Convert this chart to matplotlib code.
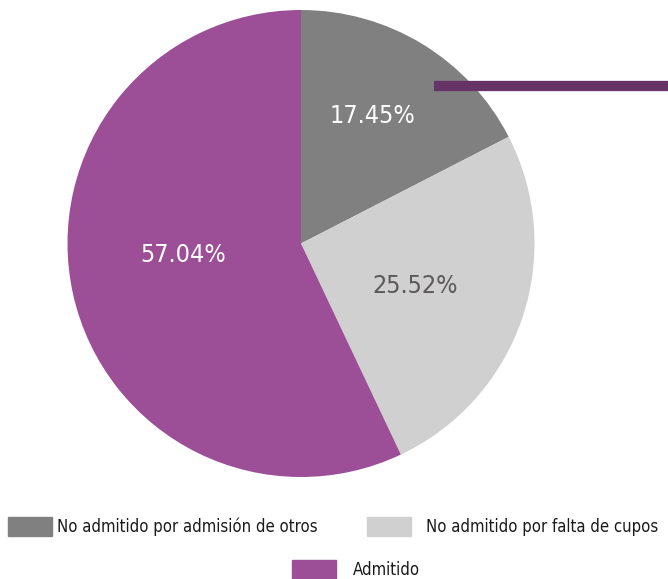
import matplotlib
matplotlib.use("Agg")
import matplotlib.pyplot as plt
from matplotlib.patches import Rectangle
from matplotlib.lines import Line2D
import numpy as np

plt.rcParams['font.family'] = ['DejaVu Sans']
plt.rcParams['font.stretch'] = 'condensed'

categorias = ["No admitido por admisión de otros", "No admitido por falta de cupos", "Admitido"]
porcentajes = [17.45, 25.52, 57.04]
colores = ["#808080", "#d0d0d0", "#9c4f96"]
color_texto = ["white", "#5c585c", "white"]

W, H = 668, 579
fig = plt.figure(figsize=(W / 100, H / 100), dpi=100)

# pie axes: centre (301, 243.5) px, radius 233.5 px
cx, cy, r = 301, 243.5, 233.5
ax = fig.add_axes([(cx - r) / W, 1 - (cy + r) / H, 2 * r / W, 2 * r / H])
wedges, _ = ax.pie(porcentajes, colors=colores, startangle=90, counterclock=False,
                   radius=1, wedgeprops=dict(linewidth=0))
ax.set_xlim(-1, 1)
ax.set_ylim(-1, 1)
ax.set_aspect('equal')
ax.axis('off')

# percentage labels
dist = [0.625, 0.52, 0.505]
shift = [2, -1.5, -7.3]
for w, p, c, d, s in zip(wedges, porcentajes, color_texto, dist, shift):
    ang = np.deg2rad((w.theta1 + w.theta2) / 2 + s)
    ax.text(d * np.cos(ang), d * np.sin(ang), f"{p:.2f}%", color=c,
            ha='center', va='center', fontsize=18)

# dark bar on the right
fig.add_artist(Line2D([434 / W, 1.0], [1 - 85.5 / H, 1 - 85.5 / H],
                      color="#663366", linewidth=7.4, solid_capstyle='butt'))

# legend
items = [(8, 517, 57), (367, 517, 426), (292, 560, 353)]
for (bx, by, tx), lab, col in zip(items, categorias, colores):
    fig.add_artist(Rectangle((bx / W, 1 - (by + 19) / H), 44 / W, 19 / H,
                             color=col, transform=fig.transFigure))
    fig.text(tx / W, 1 - (by + 10) / H, lab, ha='left', va='center',
             fontsize=12, color="#1a1a1a")

fig.savefig("out.png", dpi=100)
